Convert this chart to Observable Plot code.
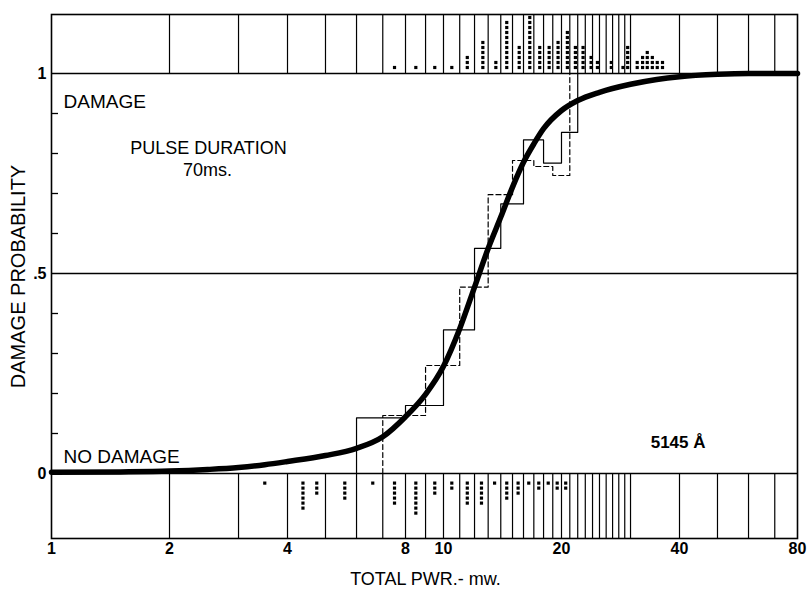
<!DOCTYPE html>
<html><head><meta charset="utf-8">
<script src="https://cdn.jsdelivr.net/npm/d3@7"></script>
<script src="https://cdn.jsdelivr.net/npm/@observablehq/plot@0.6"></script>
<style>body{margin:0;background:#fff} svg{display:block}</style>
</head><body><div id="chart"></div>
<script>
// ---- data ----
const xTicks = [1, 2, 4, 8, 10, 20, 40, 80];
const yTickLabels = [0, 0.5, 1];
const yMinorTicks = [0.1, 0.2, 0.3, 0.4, 0.6, 0.7, 0.8, 0.9];
const stripEdges = [2,3,4,5,6,7,8,9,10,11,12,13,14,15,16,17,18,19,20,21,22,23,24,25,26,27,28,29,30,40,50,60,70];

// empirical step curves (2-mW bins, offset by 1 mW)
const solidEdges = [6, 8, 10, 12, 14, 16, 18, 20, 22];
const solidProb  = [0.139, 0.17, 0.359, 0.563, 0.674, 0.834, 0.776, 0.853, 1];
const dashedEdges = [7, 9, 11, 13, 15, 17, 19, 21];
const dashedProb  = [0.145, 0.27, 0.466, 0.697, 0.7825, 0.7675, 0.745, 1];

// fitted probability curve
const curveX = [1, 1.5, 2, 2.5, 3, 3.5, 4, 5, 6, 7, 8, 9, 10, 11, 12, 13, 14, 15, 16, 17, 18, 20, 22, 25, 30, 35, 40, 50, 60, 80];
const curveY = [0.003, 0.004, 0.006, 0.01, 0.015, 0.022, 0.03, 0.045, 0.063, 0.092, 0.142, 0.198, 0.268, 0.362, 0.466, 0.5625, 0.641, 0.716, 0.778, 0.824, 0.862, 0.9075, 0.9325, 0.953, 0.973, 0.985, 0.992, 0.998, 1.0, 1.0];

// individual exposures: damage (top strip) and no damage (bottom strip)
const damageX = [7.5, 8.5, 9.5, 10.5, 11.5, 12.6, 13.6, 14.5, 15.6, 16.6, 17.6, 18.6, 19.6, 20.7, 21.7, 22.7, 23.8, 24.7, 26.8, 28.7, 29.5, 31.2, 32.2, 33.1, 34.1, 35.1, 36.2];
const damageN = [1, 1, 1, 1, 3, 6, 2, 10, 5, 11, 5, 5, 6, 8, 5, 5, 3, 2, 2, 1, 5, 2, 3, 4, 3, 2, 2];
const noDamageX = [3.5, 4.38, 4.75, 5.6, 6.6, 7.5, 8.5, 9.5, 10.5, 11.5, 12.5, 13.5, 14.5, 15.5, 16.5, 17.5, 18.5, 19.5, 20.5];
const noDamageN = [1, 6, 3, 4, 1, 5, 7, 3, 2, 5, 5, 1, 4, 3, 1, 2, 1, 2, 2];

// ---- derived tables ----
const stackStep = 0.0125;
const topDots = damageX.flatMap((x, i) => d3.range(damageN[i]).map(k => ({x, y: 1.015 + k * stackStep})));
const botDots = noDamageX.flatMap((x, i) => d3.range(noDamageN[i]).map(k => ({x, y: -0.024 - k * stackStep})));
const solid = [{x: solidEdges[0], y: 0}, ...solidEdges.map((x, i) => ({x, y: solidProb[i]}))];
const dashed = [{x: dashedEdges[0], y: 0}, ...dashedEdges.map((x, i) => ({x, y: dashedProb[i]}))];
const curve = curveX.map((x, i) => ({x, y: curveY[i]}));

const font = "'Liberation Sans', Arial, sans-serif";

const chart = Plot.plot({
  width: 809, height: 589,
  marginLeft: 51, marginRight: 12, marginTop: 14, marginBottom: 51,
  style: {background: "#fff", fontFamily: font, color: "#000"},
  x: {type: "log", domain: [1, 80], axis: null},
  y: {domain: [-0.1625, 1.1475], axis: null},
  marks: [
    Plot.ruleX(stripEdges, {x: d => d, y1: 1, y2: 1.1475, stroke: "#000", strokeWidth: 1.2}),
    Plot.ruleX(stripEdges, {x: d => d, y1: 0, y2: -0.1625, stroke: "#000", strokeWidth: 1.2}),
    Plot.ruleY(yTickLabels, {y: d => d, stroke: "#000", strokeWidth: 1.3}),
    Plot.dot(topDots, {x: "x", y: "y", symbol: "square", r: 1.8, fill: "#000", stroke: null}),
    Plot.dot(botDots, {x: "x", y: "y", symbol: "square", r: 1.8, fill: "#000", stroke: null}),
    Plot.line(solid, {x: "x", y: "y", curve: "step-after", stroke: "#000", strokeWidth: 1.2}),
    Plot.line(dashed, {x: "x", y: "y", curve: "step-after", stroke: "#000", strokeWidth: 1.2, strokeDasharray: "5,3"}),
    Plot.line(curve, {x: "x", y: "y", curve: "monotone-x", stroke: "#000", strokeWidth: 5.5}),
    Plot.frame({stroke: "#000", strokeWidth: 1.6}),
    Plot.text(xTicks, {x: d => d, text: d => String(d), frameAnchor: "bottom", dy: 4, lineAnchor: "top", textAnchor: "middle", fontSize: 16, fontWeight: "bold"}),
    Plot.axisY({ticks: yTickLabels, tickFormat: d => d === 0.5 ? ".5" : String(d), tickSize: 0, tickPadding: 5, fontSize: 16, fontWeight: "bold", label: null}),
    Plot.axisY({ticks: yMinorTicks, tickFormat: () => "", tickSize: -7, label: null, strokeWidth: 1.3}),
    Plot.text(["DAMAGE"], {text: d => d, frameAnchor: "top-left", dx: 12, dy: 93, textAnchor: "start", lineAnchor: "bottom", fontSize: 19}),
    Plot.text(["PULSE DURATION"], {text: d => d, frameAnchor: "top-left", dx: 157, dy: 139, textAnchor: "middle", lineAnchor: "bottom", fontSize: 18}),
    Plot.text(["70ms."], {text: d => d, frameAnchor: "top-left", dx: 156, dy: 161, textAnchor: "middle", lineAnchor: "bottom", fontSize: 18}),
    Plot.text(["NO DAMAGE"], {text: d => d, frameAnchor: "bottom-left", dx: 12, dy: -76, textAnchor: "start", lineAnchor: "bottom", fontSize: 19}),
    Plot.text(["5145 Å"], {text: d => d, frameAnchor: "bottom-right", dx: -92, dy: -91, textAnchor: "end", lineAnchor: "bottom", fontSize: 17, fontWeight: "bold"}),
    Plot.text(["TOTAL PWR.- mw."], {text: d => d, frameAnchor: "bottom", dx: 1, dy: 46, textAnchor: "middle", lineAnchor: "bottom", fontSize: 18}),
    Plot.text(["DAMAGE PROBABILITY"], {text: d => d, frameAnchor: "left", dx: -33, rotate: -90, textAnchor: "middle", lineAnchor: "middle", fontSize: 20})
  ]
});
document.getElementById("chart").appendChild(chart);
</script>
</body></html>
